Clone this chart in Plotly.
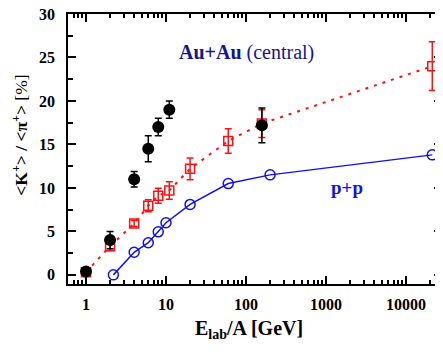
import plotly.graph_objects as go

# beam energy per nucleon [GeV] and K+/pi+ ratio [%]
aa_e = [1, 2, 4, 6, 8, 11, 158]
aa_k = [0.4, 4.0, 11.0, 14.5, 17.0, 19.0, 17.2]
aa_err = [0.2, 1.0, 0.9, 1.5, 1.0, 1.0, 2.0]

pb_e = [1, 2, 4, 6, 8, 11, 20, 60, 158, 21300]
pb_k = [0.3, 3.3, 5.9, 7.95, 9.1, 9.7, 12.2, 15.4, 17.4, 24.0]
pb_err = [0.2, 0.5, 0.35, 0.7, 0.85, 1.0, 1.25, 1.4, 1.6, 2.8]

pp_e = [2.2, 4, 6, 8, 10, 20, 60, 200, 21300]
pp_k = [0.0, 2.6, 3.7, 4.95, 6.0, 8.1, 10.5, 11.5, 13.8]

x_ticks = [1, 10, 100, 1000, 10000]
x_labels = ["1", "10", "100", "1000", "10000"]

font = "Liberation Serif"
fig = go.Figure()

fig.add_trace(go.Scatter(x=pp_e, y=pp_k, mode="lines+markers", cliponaxis=False,
                         line=dict(color="#1010f0", width=1.5),
                         marker=dict(symbol="circle-open", size=10, color="#1010f0", line=dict(width=1.5))))

fig.add_trace(go.Scatter(x=pb_e, y=pb_k, mode="lines+markers", cliponaxis=False,
                         line=dict(color="#ff1010", width=2, dash="3px,6px"),
                         marker=dict(symbol="square-open", size=9, color="#ff1010", line=dict(width=1.5)),
                         error_y=dict(type="data", array=pb_err, color="#ff1010", thickness=1.5, width=3.5)))

fig.add_trace(go.Scatter(x=aa_e, y=aa_k, mode="markers", cliponaxis=False,
                         marker=dict(symbol="circle", size=12, color="black"),
                         error_y=dict(type="data", array=aa_err, color="black", thickness=1.5, width=3.5)))

axis = dict(showline=True, linecolor="black", linewidth=1.5, mirror="allticks", automargin=False,
            ticks="inside", tickcolor="black", tickwidth=1.5, showgrid=False, zeroline=False,
            ticklabeloverflow="allow",
            tickfont=dict(family=font, size=16, color="black", weight="bold"))

fig.update_xaxes(type="log", range=[-0.225, 4.45], tickvals=x_ticks, ticktext=x_labels,
                 ticklen=8, ticklabelstandoff=5,
                 minor=dict(ticks="inside", ticklen=4, tickcolor="black", tickwidth=1.5, dtick="D1"),
                 **axis)
fig.update_yaxes(range=[-1.05, 30], dtick=5, ticklen=8, ticklabelstandoff=8,
                 minor=dict(ticks="inside", ticklen=5, tickcolor="black", tickwidth=1.5, dtick=2.5),
                 **axis)

fig.add_annotation(text="<b>Au+Au</b> (central)", x=0.292, y=0.859, xref="paper", yref="paper",
                   xanchor="left", yanchor="middle", showarrow=False,
                   font=dict(family=font, size=20, color="#14148c"))
fig.add_annotation(text="<b>p+p</b>", x=0.699, y=0.359, xref="paper", yref="paper",
                   xanchor="left", yanchor="middle", showarrow=False,
                   font=dict(family=font, size=19, color="#1010f0"))
fig.add_annotation(text="<b>E<sub>lab</sub>/A [GeV]</b>", x=0.485, y=-0.167, xref="paper", yref="paper",
                   xanchor="center", yanchor="middle", showarrow=False,
                   font=dict(family=font, size=20, color="black"))
fig.add_annotation(text="<b>&lt;K<sup>+</sup>&gt; / &lt;π<sup>+</sup>&gt;</b> [%]", x=-0.129, y=0.552,
                   xref="paper", yref="paper", textangle=-90,
                   xanchor="center", yanchor="middle", showarrow=False,
                   font=dict(family=font, size=17.5, color="black"))

# the page body adds an 8px offset, so the margins are shifted back by that much
fig.update_layout(width=443, height=354, showlegend=False,
                  margin=dict(l=60, r=9, t=6, b=78),
                  plot_bgcolor="white", paper_bgcolor="white")
fig.write_html("out.html")
